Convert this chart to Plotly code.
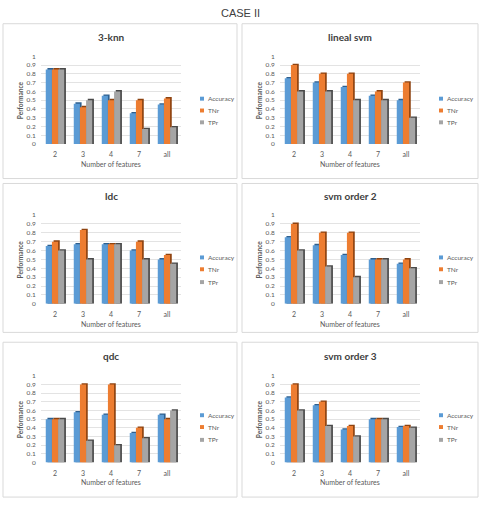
import plotly.graph_objects as go

W, H = 481, 505

categories = ["2", "3", "4", "7", "all"]
series_names = ["Accuracy", "TNr", "TPr"]
panel_titles = ["3-knn", "lineal svm", "ldc", "svm order 2", "qdc", "svm order 3"]

knn3_acc = [0.85, 0.46, 0.55, 0.35, 0.45]
knn3_tnr = [0.85, 0.42, 0.50, 0.50, 0.52]
knn3_tpr = [0.85, 0.50, 0.60, 0.17, 0.19]

lsvm_acc = [0.75, 0.70, 0.65, 0.55, 0.50]
lsvm_tnr = [0.90, 0.80, 0.80, 0.60, 0.70]
lsvm_tpr = [0.60, 0.60, 0.50, 0.50, 0.30]

ldc_acc = [0.65, 0.67, 0.67, 0.60, 0.50]
ldc_tnr = [0.70, 0.83, 0.67, 0.70, 0.55]
ldc_tpr = [0.60, 0.50, 0.67, 0.50, 0.45]

svm2_acc = [0.75, 0.66, 0.55, 0.50, 0.45]
svm2_tnr = [0.90, 0.80, 0.80, 0.50, 0.50]
svm2_tpr = [0.60, 0.42, 0.30, 0.50, 0.40]

qdc_acc = [0.50, 0.58, 0.55, 0.34, 0.55]
qdc_tnr = [0.50, 0.90, 0.90, 0.40, 0.50]
qdc_tpr = [0.50, 0.25, 0.20, 0.28, 0.60]

svm3_acc = [0.75, 0.66, 0.38, 0.50, 0.41]
svm3_tnr = [0.90, 0.70, 0.42, 0.50, 0.42]
svm3_tpr = [0.60, 0.42, 0.30, 0.50, 0.40]

y_ticks = [0, 0.1, 0.2, 0.3, 0.4, 0.5, 0.6, 0.7, 0.8, 0.9, 1]
y_tick_labels = ["0", "0.1", "0.2", "0.3", "0.4", "0.5", "0.6", "0.7", "0.8", "0.9", "1"]

panels_data = [
    (knn3_acc, knn3_tnr, knn3_tpr),
    (lsvm_acc, lsvm_tnr, lsvm_tpr),
    (ldc_acc, ldc_tnr, ldc_tpr),
    (svm2_acc, svm2_tnr, svm2_tpr),
    (qdc_acc, qdc_tnr, qdc_tpr),
    (svm3_acc, svm3_tnr, svm3_tpr),
]

colors = ["#5B9BD5", "#ED7D31", "#A5A5A5"]
dark_colors = ["#2E5F8E", "#8E4310", "#4A4A4A"]
offsets = [-0.33, -0.11, 0.11]
bar_w = 0.22
depth = 0.06
top_lift = 0.015

FONT = "Lato, 'Liberation Sans', sans-serif"
TXT = "#595959"


def fx(px):
    return px / W


def fy(py):
    return 1 - py / H


# layout geometry (pixels)
cols = [
    dict(panel=(3, 237), plot=(41, 181), leg_x=200),
    dict(panel=(242, 478), plot=(280, 420), leg_x=439),
]
rows = [
    dict(panel=(20, 177), plot=(53, 142), title_y=33, xt_y=162, leg_y=(96, 108, 120)),
    dict(panel=(182, 333), plot=(214, 304), title_y=195, xt_y=325, leg_y=(257, 269, 282)),
    dict(panel=(343, 500), plot=(377, 465), title_y=357, xt_y=485, leg_y=(417, 429, 442)),
]

fig = go.Figure()
shapes = []
annotations = []

annotations.append(dict(text="CASE II", x=fx(240), y=fy(9), xref="paper", yref="paper",
                        showarrow=False, font=dict(family="'Liberation Sans', Arial", size=11, color="#404040"),
                        xanchor="center", yanchor="middle"))

for i, (data, title) in enumerate(zip(panels_data, panel_titles)):
    r, c = divmod(i, 2)
    col, row = cols[c], rows[r]
    k = "" if i == 0 else str(i + 1)
    xa, ya = "x" + k, "y" + k

    shapes.append(dict(type="rect", xref="paper", yref="paper",
                       x0=fx(col["panel"][0]), x1=fx(col["panel"][1]),
                       y0=fy(col and row["panel"][1]), y1=fy(row["panel"][0]),
                       line=dict(color="#D9D9D9", width=1), fillcolor="white", layer="below"))

    for s in range(3):
        vals = data[s]
        fig.add_trace(go.Bar(x=categories, y=[v + top_lift for v in vals], xaxis=xa, yaxis=ya,
                             offset=offsets[s] + depth, width=bar_w,
                             marker=dict(color=dark_colors[s], line=dict(width=0)),
                             showlegend=False, hoverinfo="skip"))
        fig.add_trace(go.Bar(x=categories, y=vals, xaxis=xa, yaxis=ya, name=series_names[s],
                             offset=offsets[s], width=bar_w,
                             marker=dict(color=colors[s], line=dict(width=0)),
                             showlegend=False))

    fig.layout["xaxis" + k] = dict(
        domain=[fx(col["plot"][0]), fx(col["plot"][1])], anchor=ya,
        type="category", range=[-0.5, 4.5], showgrid=False, zeroline=False,
        showline=False, ticks="outside", ticklen=4, tickcolor="rgba(0,0,0,0)",
        tickfont=dict(family=FONT, size=7, color=TXT), fixedrange=True)
    fig.layout["yaxis" + k] = dict(
        domain=[fy(row["plot"][1]), fy(row["plot"][0])], anchor=xa,
        range=[0, 1], tickvals=y_ticks, ticktext=y_tick_labels,
        showgrid=True, gridcolor="#E3E3E3", gridwidth=1, zeroline=False, showline=False,
        ticks="outside", ticklen=3, tickcolor="rgba(0,0,0,0)",
        tickfont=dict(family=FONT, size=6.5, color=TXT), fixedrange=True)

    cx = (col["plot"][0] + col["plot"][1]) / 2
    cy = (row["plot"][0] + row["plot"][1]) / 2
    annotations.append(dict(text="<b>" + title + "</b>", x=fx(cx), y=fy(row["title_y"]),
                            xref="paper", yref="paper", showarrow=False,
                            font=dict(family=FONT, size=10, color="#404040"),
                            xanchor="center", yanchor="middle"))
    annotations.append(dict(text="Number of features", x=fx(cx), y=fy(row["xt_y"]),
                            xref="paper", yref="paper", showarrow=False,
                            font=dict(family=FONT, size=7, color=TXT),
                            xanchor="center", yanchor="middle"))
    annotations.append(dict(text="<b>Performance</b>", x=fx(col["plot"][0] - 21), y=fy(cy),
                            xref="paper", yref="paper", showarrow=False, textangle=-90,
                            font=dict(family=FONT, size=6.5, color=TXT),
                            xanchor="center", yanchor="middle"))
    for s in range(3):
        ly = row["leg_y"][s]
        lx = col["leg_x"]
        shapes.append(dict(type="rect", xref="paper", yref="paper",
                           x0=fx(lx), x1=fx(lx + 4), y0=fy(ly + 2), y1=fy(ly - 2),
                           line=dict(width=0), fillcolor=colors[s]))
        annotations.append(dict(text=series_names[s], x=fx(lx + 6), y=fy(ly),
                                xref="paper", yref="paper", showarrow=False,
                                font=dict(family=FONT, size=6.5, color=TXT),
                                xanchor="left", yanchor="middle"))

fig.update_layout(
    width=W, height=H, margin=dict(l=0, r=0, t=0, b=0),
    paper_bgcolor="white", plot_bgcolor="rgba(0,0,0,0)",
    barmode="overlay", showlegend=False,
    shapes=shapes, annotations=annotations,
)

fig.write_html("out.html")
